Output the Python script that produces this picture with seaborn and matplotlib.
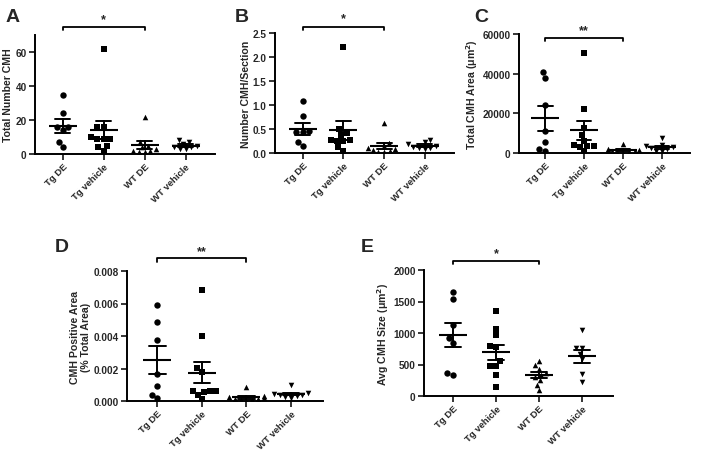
import matplotlib.pyplot as plt
import matplotlib.transforms as mtransforms
from matplotlib.ticker import FormatStrFormatter
import pandas as pd
import seaborn as sns

groups = ['Tg DE', 'Tg vehicle', 'WT DE', 'WT vehicle']
markers = ['o', 's', '^', 'v']
msizes = [4.6, 4.4, 4.0, 4.0]

# A - total number CMH
a_tg_de = [35, 24, 16, 16, 14, 7, 4]
a_tg_veh = [62, 16, 16, 10, 9, 9, 9, 5, 4, 2]
a_wt_de = [22, 7, 5, 4, 3, 2, 2, 1, 1]
a_wt_veh = [8, 7, 6, 5, 4, 4, 3, 3]

# B - number CMH / section
b_tg_de = [1.09, 0.77, 0.45, 0.44, 0.43, 0.23, 0.14]
b_tg_veh = [2.21, 0.50, 0.42, 0.38, 0.28, 0.27, 0.26, 0.26, 0.12, 0.05]
b_wt_de = [0.63, 0.20, 0.15, 0.10, 0.08, 0.06, 0.05, 0.03, 0.02]
b_wt_veh = [0.28, 0.22, 0.18, 0.14, 0.12, 0.11, 0.10, 0.09]

# C - total CMH area
c_tg_de = [41000, 38000, 24000, 11200, 5700, 2000, 1200]
c_tg_veh = [50500, 22000, 12500, 9200, 6300, 4000, 3500, 3500, 3000, 800]
c_wt_de = [4500, 2000, 1500, 1200, 1000, 800, 500, 300, 200]
c_wt_veh = [7700, 3800, 3300, 2800, 2300, 1800, 1200, 800]

# D - CMH positive area
d_tg_de = [0.0059, 0.00484, 0.00374, 0.00167, 0.0009, 0.00039, 0.00016]
d_tg_veh = [0.00683, 0.00397, 0.00204, 0.00177, 0.00062, 0.0006, 0.00058,
            0.00062, 0.0004, 0.0001]
d_wt_de = [0.00084, 0.0003, 0.00025, 0.0002, 0.00015, 0.0001, 0.00008,
           0.00005, 0.00003]
d_wt_veh = [0.001, 0.0005, 0.00045, 0.0004, 0.00035, 0.0003, 0.00025, 0.0002]

# E - avg CMH size
e_tg_de = [1645, 1534, 1132, 920, 846, 370, 333]
e_tg_veh = [1354, 1069, 963, 788, 780, 550, 476, 470, 339, 143]
e_wt_de = [550, 490, 430, 370, 340, 300, 250, 180, 100]
e_wt_veh = [1050, 760, 755, 670, 590, 350, 230]


def make_df(values):
    parts = [pd.DataFrame({'group': g, 'value': v}) for g, v in zip(groups, values)]
    return pd.concat(parts, ignore_index=True)


sns.set_style('ticks')
plt.rcParams['font.family'] = ['Liberation Sans', 'DejaVu Sans']
plt.rcParams['font.weight'] = 'bold'
plt.rcParams['axes.labelweight'] = 'bold'
plt.rcParams['mathtext.default'] = 'bf'

W, H = 708, 452
fig = plt.figure(figsize=(W / 100, H / 100), dpi=100)

panels = [
    dict(letter='A', letter_xy=(13, 17), rect=(35, 36, 215, 155),
         df=make_df([a_tg_de, a_tg_veh, a_wt_de, a_wt_veh]),
         ylabel='Total Number CMH', ylim=(0, 70), yticks=[0, 20, 40, 60],
         fmt='%d', star='*', br=(1.04, 1.067), sy=1.13),
    dict(letter='B', letter_xy=(242, 17), rect=(275, 34, 454, 154),
         df=make_df([b_tg_de, b_tg_veh, b_wt_de, b_wt_veh]),
         ylabel='Number CMH/Section', ylim=(0, 2.5),
         yticks=[0, 0.5, 1.0, 1.5, 2.0, 2.5],
         fmt='%.1f', star='*', br=(1.025, 1.05), sy=1.12),
    dict(letter='C', letter_xy=(481, 17), rect=(519, 35, 690, 154),
         df=make_df([c_tg_de, c_tg_veh, c_wt_de, c_wt_veh]),
         ylabel='Total CMH Area (μm$^2$)', ylim=(0, 60000),
         yticks=[0, 20000, 40000, 60000],
         fmt='%d', star='**', br=(0.94, 0.966), sy=1.03),
    dict(letter='D', letter_xy=(62, 248), rect=(127, 272, 323, 402),
         df=make_df([d_tg_de, d_tg_veh, d_wt_de, d_wt_veh]),
         ylabel='CMH Positive Area\n(% Total Area)', ylim=(0, 0.008),
         yticks=[0, 0.002, 0.004, 0.006, 0.008],
         fmt='%.3f', star='**', br=(1.07, 1.10), sy=1.15),
    dict(letter='E', letter_xy=(367, 248), rect=(424, 271, 613, 397),
         df=make_df([e_tg_de, e_tg_veh, e_wt_de, e_wt_veh]),
         ylabel='Avg CMH Size (μm$^2$)', ylim=(0, 2000),
         yticks=[0, 500, 1000, 1500, 2000],
         fmt='%d', star='*', br=(1.045, 1.07), sy=1.135),
]

for p in panels:
    l, t, r, b = p['rect']
    ax = fig.add_axes([l / W, 1 - b / H, (r - l) / W, (b - t) / H])
    df = p['df']

    for g, m, s in zip(groups, markers, msizes):
        sns.swarmplot(data=df[df['group'] == g], x='group', y='value',
                      order=groups, marker=m, size=s, color='black',
                      linewidth=0, ax=ax, zorder=2, warn_thresh=1)

    sns.pointplot(data=df, x='group', y='value', order=groups,
                  errorbar='se', capsize=0.37, markers='_', linestyle='none',
                  color='black', markersize=20, markeredgewidth=1.5,
                  err_kws={'linewidth': 1.4}, ax=ax, zorder=3)

    ax.set_xlim(-0.68, 3.72)
    ax.set_ylim(*p['ylim'])
    ax.set_yticks(p['yticks'])
    ax.yaxis.set_major_formatter(FormatStrFormatter(p['fmt']))
    ax.set_xticks(range(len(groups)))
    ax.set_xticklabels(groups, rotation=45, ha='right',
                       rotation_mode='anchor', fontsize=6.8, fontweight='bold')
    ax.set_xlabel('')
    ax.set_ylabel(p['ylabel'], fontsize=7.6, fontweight='bold', labelpad=1.5)
    ax.tick_params(axis='y', length=4, width=1.3, labelsize=7.2, pad=2)
    ax.tick_params(axis='x', length=4, width=1.3, labelsize=6.8, pad=1.5)
    for lab in ax.get_yticklabels():
        lab.set_fontweight('bold')
    sns.despine(ax=ax)
    for side in ['left', 'bottom']:
        ax.spines[side].set_linewidth(1.4)
        ax.spines[side].set_color('black')

    # significance bracket Tg DE vs WT DE
    trans = mtransforms.blended_transform_factory(ax.transData, ax.transAxes)
    lo, hi = p['br']
    ax.plot([0, 0, 2, 2], [lo, hi, hi, lo], transform=trans, clip_on=False,
            color='black', lw=1.3)
    ax.text(1, p['sy'], p['star'], transform=trans, ha='center', va='center',
            fontsize=9, fontweight='bold')

    fig.text(p['letter_xy'][0] / W, 1 - p['letter_xy'][1] / H, p['letter'],
             fontsize=14, fontweight='bold', ha='center', va='center')

fig.savefig('out.png', dpi=100)
